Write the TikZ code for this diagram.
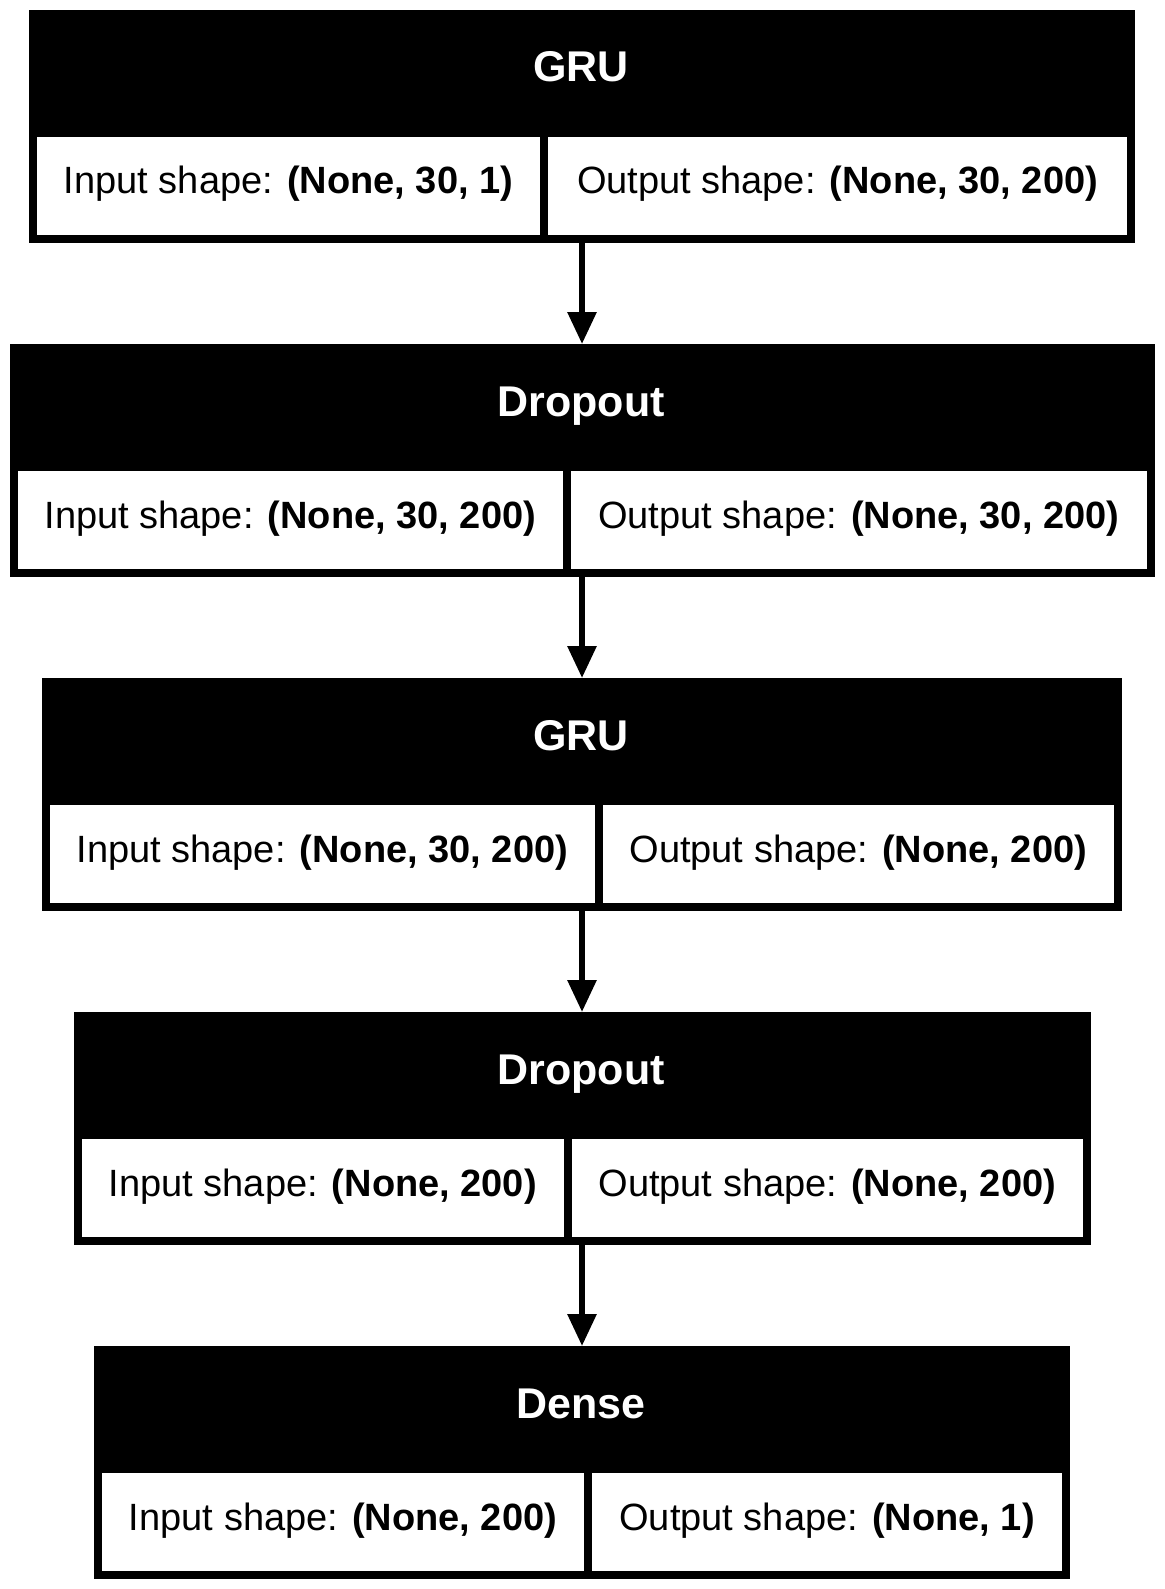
\documentclass[tikz,border=0pt]{standalone}
\usepackage{fontspec}
\setmainfont{Liberation Sans}
\usetikzlibrary{arrows.meta}

\begin{document}
\begin{tikzpicture}[x=0.5pt, y=-0.5pt,
	layer/.style={fill=black, inner sep=0pt, outer sep=0pt, minimum height=116.5pt},
	title/.style={anchor=base, text=white, inner sep=0pt, font=\fontsize{21.5}{25}\selectfont\bfseries},
	cell/.style={fill=white, inner sep=0pt, outer sep=0pt, minimum height=49pt, text height=14pt, text depth=6pt, font=\fontsize{19}{23}\selectfont},
	flow/.style={line width=3pt, -{Triangle[length=16pt, width=14pt]}}]
	\useasboundingbox (0,0) rectangle (1164,1589);
	
	\node[layer, minimum width=553pt] (gruA) at (582,126.5) {};
	\node[title] (gruA-t) at (581,82) {GRU};
	\node[cell, minimum width=251.5pt] (gruA-in) at (288.5,186) {Input shape: \textbf{(None, 30, 1)}};
	\node[cell, minimum width=289.5pt] (gruA-out) at (837.5,186) {Output shape: \textbf{(None, 30, 200)}};
	
	\node[layer, minimum width=572.5pt] (dropA) at (582,460.5) {};
	\node[title] (dropA-t) at (581,416) {Dropout};
	\node[cell, minimum width=272.75pt] (dropA-in) at (290.25,520) {Input shape: \textbf{(None, 30, 200)}};
	\node[cell, minimum width=287.75pt] (dropA-out) at (858.75,520) {Output shape: \textbf{(None, 30, 200)}};
	
	\node[layer, minimum width=540pt] (gruB) at (582,794.5) {};
	\node[title] (gruB-t) at (581,750) {GRU};
	\node[cell, minimum width=272.25pt] (gruB-in) at (322.25,854) {Input shape: \textbf{(None, 30, 200)}};
	\node[cell, minimum width=255.75pt] (gruB-out) at (858.25,854) {Output shape: \textbf{(None, 200)}};
	
	\node[layer, minimum width=508.5pt] (dropB) at (582,1128.5) {};
	\node[title] (dropB-t) at (581,1084) {Dropout};
	\node[cell, minimum width=241.25pt] (dropB-in) at (322.75,1188) {Input shape: \textbf{(None, 200)}};
	\node[cell, minimum width=255.25pt] (dropB-out) at (827.25,1188) {Output shape: \textbf{(None, 200)}};
	
	\node[layer, minimum width=488pt] (dense) at (582,1462.5) {};
	\node[title] (dense-t) at (581,1418) {Dense};
	\node[cell, minimum width=241pt] (dense-in) at (343,1522) {Input shape: \textbf{(None, 200)}};
	\node[cell, minimum width=235pt] (dense-out) at (827,1522) {Output shape: \textbf{(None, 1)}};
	
	\draw[flow] (gruA) -- (dropA);
	\draw[flow] (dropA) -- (gruB);
	\draw[flow] (gruB) -- (dropB);
	\draw[flow] (dropB) -- (dense);
\end{tikzpicture}
\end{document}
